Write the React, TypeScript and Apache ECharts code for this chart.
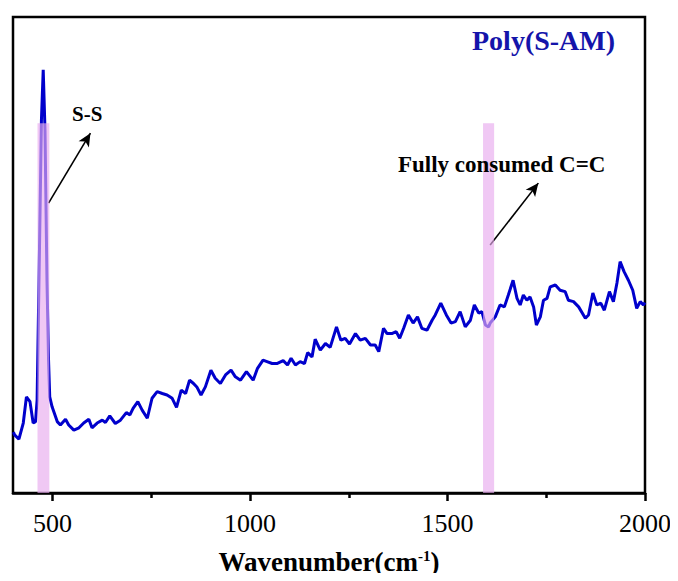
import { useEffect, useRef } from "react";
import * as echarts from "echarts";

// Raman spectrum of Poly(S-AM): wavenumber (cm-1) and relative intensity
const wavenumbers = [
  401, 404, 415, 426, 434, 443, 451, 457, 461, 467, 472, 476.5, 481, 486, 490, 493, 499,
  512, 520, 533, 541, 554, 567, 579, 592, 600, 613, 626, 634, 645, 659, 672, 687, 696,
  704, 716, 727, 740, 752, 765, 778, 790, 803, 814, 826, 837, 847, 857, 866, 876, 887,
  901, 912, 925, 938, 952, 963, 976, 991, 1008, 1019, 1033, 1043, 1056, 1068, 1084,
  1095, 1104, 1115, 1127, 1138, 1146, 1157, 1165, 1178, 1191, 1203, 1219, 1230, 1241,
  1252, 1267, 1279, 1292, 1305, 1317, 1326, 1338, 1347, 1359, 1370, 1379, 1389, 1401,
  1413, 1424, 1435, 1448, 1461, 1469, 1483, 1497, 1509, 1520, 1532, 1545, 1558, 1568,
  1579, 1587, 1596, 1604, 1608, 1621, 1633, 1644, 1654, 1666, 1676, 1684, 1692, 1701,
  1709, 1718, 1725, 1735, 1743, 1752, 1760, 1773, 1785, 1798, 1806, 1819, 1832, 1849,
  1857, 1868, 1878, 1888, 1897, 1910, 1920, 1929, 1937, 1947, 1958, 1969, 1979, 1988,
  1996, 2000,
];
const intensity = [
  12.8, 12.2, 11.3, 14.7, 20.2, 19.2, 14.7, 15.0, 19.5, 51.0, 78.4, 88.9, 76.3, 44.7, 27.9,
  20.2, 18.1, 15.0, 14.3, 15.5, 14.3, 13.2, 13.7, 14.7, 15.5, 13.7, 14.7, 15.3, 14.8, 16.2,
  14.6, 15.3, 16.9, 16.4, 17.8, 19.2, 17.4, 15.7, 19.9, 21.3, 20.9, 20.6, 19.9, 18.0, 21.6,
  20.9, 23.7, 23.0, 22.2, 20.6, 22.3, 25.8, 24.1, 23.0, 24.8, 25.8, 24.4, 23.7, 25.5, 23.7,
  26.2, 27.9, 27.6, 27.2, 27.2, 27.8, 26.9, 28.3, 26.9, 27.6, 27.2, 29.5, 28.6, 32.3, 30.0,
  31.4, 30.6, 34.9, 32.1, 32.5, 31.3, 33.5, 32.1, 32.5, 31.1, 31.1, 29.7, 34.6, 33.5, 33.5,
  33.9, 32.5, 34.6, 37.4, 35.7, 37.0, 34.6, 34.2, 36.3, 37.4, 39.9, 37.4, 35.7, 36.0, 38.1,
  34.9, 36.3, 39.5, 37.8, 38.1, 35.3, 34.9, 35.7, 37.0, 39.5, 39.1, 41.6, 44.7, 40.9, 39.5,
  41.6, 40.5, 41.2, 39.1, 35.3, 37.0, 40.5, 40.9, 43.3, 43.7, 42.6, 42.3, 40.5, 40.2, 39.1,
  36.7, 37.4, 42.0, 39.5, 39.9, 38.4, 42.3, 40.2, 44.1, 48.6, 46.5, 44.7, 42.6, 38.8, 40.2,
  39.5, 40.0,
];

// Highlighted bands: [from, to, height]
const bands = [
  [462, 492, 77.7],
  [1590, 1618, 77.7],
];

// Annotation arrows: [tailX, tailY, headX, headY]
const arrows = [
  [490, 60.9, 596, 75.6],
  [1608, 52.1, 1730, 65.1],
];

const majorTicks = [500, 1000, 1500, 2000];
const minorTicks = [750, 1250, 1750];

export default function App() {
  const ref = useRef<HTMLDivElement>(null);

  useEffect(() => {
    if (!ref.current) return;
    const chart = echarts.init(ref.current, null, { renderer: "svg" });
    const serif = "Liberation Serif";
    const spectrum = wavenumbers.map((w, i) => [w, intensity[i]]);

    chart.setOption({
      animation: false,
      backgroundColor: "#fff",
      grid: {
        left: 13,
        right: 33,
        top: 17,
        bottom: 88,
        show: true,
        borderColor: "#000",
        borderWidth: 2.5,
        backgroundColor: "transparent",
      },
      xAxis: [
        {
          type: "value",
          min: 400,
          max: 2000,
          splitLine: { show: false },
          axisLine: { show: true, lineStyle: { color: "#000", width: 2.5 } },
          axisTick: {
            show: true,
            inside: false,
            length: 8,
            customValues: majorTicks,
            lineStyle: { color: "#000", width: 2.5 },
          },
          axisLabel: {
            customValues: majorTicks,
            formatter: (v: number) => String(v),
            color: "#000",
            fontFamily: serif,
            fontWeight: "normal",
            fontSize: 26,
            margin: 17,
          },
          name: "Wavenumber(cm{sup|-1})",
          nameLocation: "middle",
          nameGap: 55,
          nameTextStyle: {
            color: "#000",
            fontFamily: serif,
            fontWeight: "bold",
            fontSize: 27,
            rich: {
              sup: {
                fontFamily: serif,
                fontWeight: "bold",
                fontSize: 15,
                verticalAlign: "top",
                padding: [0, 0, 12, 0],
                color: "#000",
              },
            },
          },
        },
        {
          type: "value",
          min: 400,
          max: 2000,
          position: "bottom",
          splitLine: { show: false },
          axisLine: { show: false },
          axisLabel: { show: false },
          axisTick: {
            show: true,
            inside: false,
            length: 5,
            customValues: minorTicks,
            lineStyle: { color: "#000", width: 2.5 },
          },
        },
      ],
      yAxis: {
        type: "value",
        min: 0,
        max: 100,
        show: false,
      },
      series: [
        {
          type: "line",
          data: spectrum,
          showSymbol: false,
          symbol: "none",
          z: 2,
          lineStyle: { color: "#0000cc", width: 3 },
        },
        {
          type: "custom",
          z: 5,
          encode: { x: [0, 1], y: 2 },
          data: bands,
          renderItem: (_params: any, api: any) => {
            const p0 = api.coord([api.value(0), api.value(2)]);
            const p1 = api.coord([api.value(1), 0]);
            return {
              type: "rect",
              shape: { x: p0[0], y: p0[1], width: p1[0] - p0[0], height: p1[1] - p0[1] },
              style: { fill: "rgba(232,171,239,0.66)" },
            };
          },
        },
        {
          type: "line",
          data: [],
          z: 10,
          markLine: {
            silent: true,
            animation: false,
            symbol: ["none", "arrow"],
            symbolSize: [9, 13],
            label: { show: false },
            lineStyle: { color: "#000", width: 1.6, type: "solid" },
            data: arrows.map((a) => [
              { coord: [a[0], a[1]] },
              { coord: [a[2], a[3]] },
            ]),
          },
        },
      ],
      graphic: [
        {
          type: "text",
          left: 472,
          top: 26,
          z: 20,
          style: {
            text: "Poly(S-AM)",
            fill: "#1414aa",
            font: `bold 28px ${serif}`,
          },
        },
        {
          type: "text",
          left: 72,
          top: 103,
          z: 20,
          style: {
            text: "S-S",
            fill: "#000",
            font: `bold 21px ${serif}`,
          },
        },
        {
          type: "text",
          left: 398,
          top: 153,
          z: 20,
          style: {
            text: "Fully consumed C=C",
            fill: "#000",
            font: `bold 23px ${serif}`,
          },
        },
      ],
    });

    return () => chart.dispose();
  }, []);

  return <div ref={ref} style={{ width: 678, height: 581, margin: -8 }} />;
}
